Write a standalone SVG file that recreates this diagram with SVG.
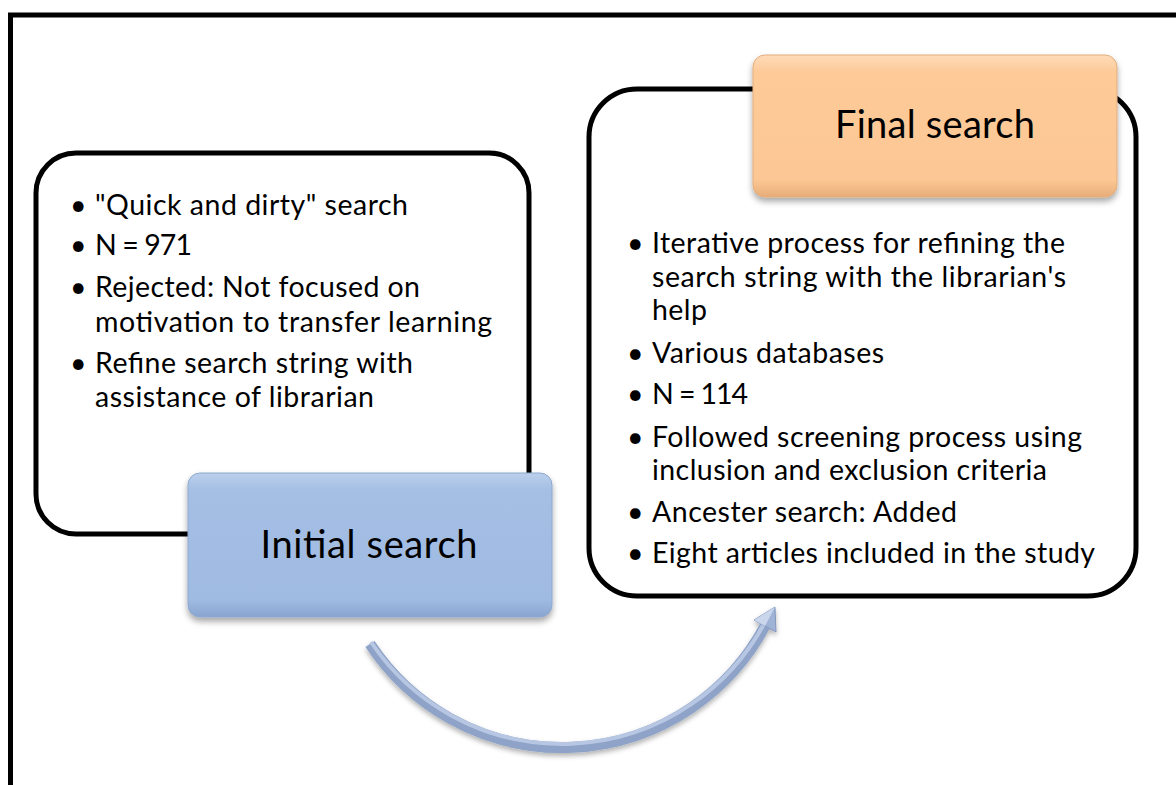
<svg xmlns="http://www.w3.org/2000/svg" width="1176" height="785" viewBox="0 0 1176 785">
  <defs>
    <style>
      .frame { fill: none; stroke: #000; stroke-width: 5; }
      .panel { fill: #fff; stroke: #000; stroke-width: 5; }
      .txt { font-family: Lato, "Open Sans", "Liberation Sans", sans-serif; font-size: 28.5px; fill: #000; }
      .title { font-family: Lato, "Open Sans", "Liberation Sans", sans-serif; font-size: 38px; fill: #000; text-anchor: middle; }
    </style>
    <linearGradient id="blueFill" x1="0" y1="0" x2="0" y2="1">
      <stop offset="0" stop-color="#bcd0ec"/>
      <stop offset="0.12" stop-color="#a4bee4"/>
      <stop offset="0.88" stop-color="#a0bbe2"/>
      <stop offset="1" stop-color="#89a5cf"/>
    </linearGradient>
    <linearGradient id="orangeFill" x1="0" y1="0" x2="0" y2="1">
      <stop offset="0" stop-color="#fedbb9"/>
      <stop offset="0.12" stop-color="#fdca98"/>
      <stop offset="0.88" stop-color="#fcc794"/>
      <stop offset="1" stop-color="#e6ad78"/>
    </linearGradient>
    <filter id="shadow" x="-10%" y="-10%" width="120%" height="130%">
      <feDropShadow dx="0" dy="4" stdDeviation="3" flood-color="#000" flood-opacity="0.35"/>
    </filter>
    <filter id="arrowShadow" x="-10%" y="-20%" width="120%" height="140%">
      <feDropShadow dx="0" dy="3" stdDeviation="2.5" flood-color="#000" flood-opacity="0.3"/>
    </filter>
  </defs>

  <!-- outer page frame, open past the right and bottom edges -->
  <rect class="frame" x="10.5" y="15" width="1200" height="800"/>

  <!-- left detail panel -->
  <g id="initial-details">
    <rect class="panel" x="36" y="153" width="493" height="381" rx="40"/>
    <text class="txt" x="70" y="215">•</text>
    <text class="txt" x="95" y="215" textLength="313">"Quick and dirty" search</text>
    <text class="txt" x="70" y="255">•</text>
    <text class="txt" x="95" y="255" textLength="97">N = 971</text>
    <text class="txt" x="70" y="297">•</text>
    <text class="txt" x="95" y="297" textLength="325">Rejected: Not focused on</text>
    <text class="txt" x="95" y="332" textLength="397">motivation to transfer learning</text>
    <text class="txt" x="70" y="373">•</text>
    <text class="txt" x="95" y="373" textLength="318">Refine search string with</text>
    <text class="txt" x="95" y="407" textLength="279">assistance of librarian</text>
  </g>

  <!-- right detail panel -->
  <g id="final-details">
    <rect class="panel" x="589" y="89" width="547" height="507" rx="48"/>
    <text class="txt" x="627" y="253">•</text>
    <text class="txt" x="652" y="253" textLength="413">Iterative process for refining the</text>
    <text class="txt" x="652" y="287" textLength="414">search string with the librarian's</text>
    <text class="txt" x="652" y="320" textLength="55">help</text>
    <text class="txt" x="627" y="363">•</text>
    <text class="txt" x="652" y="363" textLength="232">Various databases</text>
    <text class="txt" x="627" y="404">•</text>
    <text class="txt" x="652" y="404" textLength="96">N = 114</text>
    <text class="txt" x="627" y="447">•</text>
    <text class="txt" x="652" y="447" textLength="430">Followed screening process using</text>
    <text class="txt" x="652" y="480" textLength="395">inclusion and exclusion criteria</text>
    <text class="txt" x="627" y="522">•</text>
    <text class="txt" x="652" y="522" textLength="305">Ancester search: Added</text>
    <text class="txt" x="627" y="563">•</text>
    <text class="txt" x="652" y="563" textLength="443">Eight articles included in the study</text>
  </g>

  <!-- stage label boxes -->
  <g id="initial-search">
    <rect x="188" y="473" width="364" height="144" rx="12" fill="url(#blueFill)" stroke="#8ea8cf" stroke-width="1" filter="url(#shadow)"/>
    <text class="title" x="369" y="558" textLength="217">Initial search</text>
  </g>

  <g id="final-search">
    <rect x="753" y="55" width="364" height="142" rx="12" fill="url(#orangeFill)" stroke="#e3ad7c" stroke-width="1" filter="url(#shadow)"/>
    <text class="title" x="935" y="138" textLength="200">Final search</text>
  </g>

  <!-- curved connector from the initial stage to the final stage -->
  <g id="connectors">
    <g filter="url(#arrowShadow)">
      <path d="M 370 644 A 230 230 0 0 0 765 626" fill="none" stroke="#8ea3c7" stroke-width="11"/>
      <path d="M 371 642 A 230 230 0 0 0 764 624" fill="none" stroke="#b7c7e3" stroke-width="4"/>
      <polygon points="775,607 754,620 776,632" fill="#9fb3d6" stroke="#8397bd" stroke-width="1"/>
      <polygon points="775,607 754,620 765,626" fill="#c9d6ec"/>
    </g>
  </g>
</svg>
